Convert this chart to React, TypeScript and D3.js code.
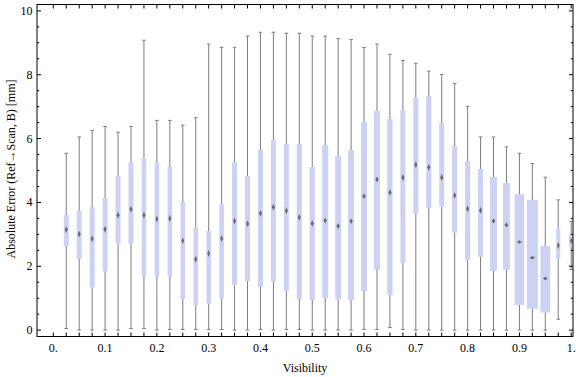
import React from "react";
import * as d3 from "d3";

const visibility = [0.025,0.05,0.075,0.1,0.125,0.15,0.175,0.2,0.225,0.25,0.275,0.3,0.325,0.35,0.375,0.4,0.425,0.45,0.475,0.5,0.525,0.55,0.575,0.6,0.625,0.65,0.675,0.7,0.725,0.75,0.775,0.8,0.825,0.85,0.875,0.9,0.925,0.95,0.975,1.0];
const whiskerLow = [0.05,0,0,0,0,0.05,0.05,0,0.02,0.02,0.02,0.02,0.02,0,0,0.02,0,0.02,0.02,0,0,0,0,0.02,0.02,0.08,0.02,0,0,0,0,0,0,0,0,0,0,0,0.34,1.9];
const q1 = [2.64,2.22,1.33,1.83,2.71,2.71,1.70,1.68,1.67,0.98,0.76,0.83,0.98,1.41,1.54,1.36,1.52,1.22,0.97,0.94,1.01,0.97,0.94,1.22,1.89,1.10,2.10,3.65,3.83,3.87,3.05,2.20,2.30,1.85,1.89,0.79,0.67,0.55,2.24,2.61];
const median = [3.15,3.01,2.86,3.16,3.60,3.79,3.60,3.48,3.50,2.80,2.22,2.40,2.87,3.42,3.33,3.66,3.85,3.74,3.53,3.34,3.43,3.26,3.41,4.19,4.72,4.31,4.78,5.18,5.10,4.78,4.22,3.80,3.75,3.42,3.29,2.76,2.27,1.62,2.65,2.80];
const q3 = [3.60,3.73,3.85,4.14,4.83,5.26,5.39,5.26,5.11,4.01,3.22,3.10,3.95,5.26,4.83,5.64,5.95,5.83,5.83,5.11,5.79,5.45,5.64,6.52,6.87,6.61,6.90,7.27,7.33,6.49,5.77,5.29,5.05,4.80,4.61,4.26,4.08,2.63,3.17,3.00];
const whiskerHigh = [5.54,6.05,6.26,6.38,6.20,6.38,9.08,6.57,6.57,6.42,6.65,8.96,8.86,8.86,9.21,9.33,9.33,9.30,9.30,9.21,9.21,9.13,9.10,8.85,8.96,8.64,8.45,8.36,8.11,8.01,7.73,7.01,6.05,6.05,5.74,5.54,5.22,4.79,4.08,3.41];
const relWidth = [1,1,1,1,1,1,0.9,0.9,0.9,0.9,0.9,0.9,0.9,1,1,1,1,1,1,1.05,1.2,1.2,1.2,1.2,1.2,1.05,1,1,1,1,1,1,1,1.38,1.38,1.9,2.2,1.95,0.8,0.8];

const xTickLabels = ["0.","0.1","0.2","0.3","0.4","0.5","0.6","0.7","0.8","0.9","1."];
const xTickValues = [0,0.1,0.2,0.3,0.4,0.5,0.6,0.7,0.8,0.9,1.0];
const yTickValues = [0,2,4,6,8,10];

const W = 576, H = 377;
const L = 37, R = 573, T = 4.5, B = 336.5;

export default function App() {
  const x = d3.scaleLinear().domain([-0.0315, 1.0035]).range([L, R]);
  const y = d3.scaleLinear().domain([-0.2, 10.2]).range([B, T]);
  const baseW = 5;
  const capW = 3.6;
  const gray = "#7d7d7d";
  const boxFill = "#cbd2f4";
  const font = "'Liberation Serif', 'Times New Roman', serif";

  const minorY = d3.range(0, 10.01, 0.5).filter((v) => Math.abs(v % 2) > 1e-6);
  const xMinor = d3.range(0, 41).map((i) => i * 0.025);

  return (
    <svg width={W} height={H} style={{ position: "absolute", left: 0, top: 0, background: "#fff" }}>
      <defs>
        <clipPath id="plotclip">
          <rect x={L} y={T} width={R - L} height={B - T} />
        </clipPath>
        <filter id="soft" x="-1" y="-1" width="3" height="3">
          <feGaussianBlur stdDeviation="0.45" />
        </filter>
      </defs>
      <rect x={0} y={0} width={W} height={H} fill="#fff" />
      <g clipPath="url(#plotclip)">
        {visibility.map((v, i) => {
          const cx = x(v);
          const w = baseW * relWidth[i];
          const rx = 0.22 * w + 0.4;
          const ry = Math.min(3.6, 17 / w);
          const my = y(median[i]);
          return (
            <g key={i}>
              <line x1={cx} x2={cx} y1={y(whiskerLow[i])} y2={y(whiskerHigh[i])} stroke={gray} strokeWidth={1} />
              <line x1={cx - capW / 2} x2={cx + capW / 2} y1={y(whiskerHigh[i])} y2={y(whiskerHigh[i])} stroke={gray} strokeWidth={1} />
              <line x1={cx - capW / 2} x2={cx + capW / 2} y1={y(whiskerLow[i])} y2={y(whiskerLow[i])} stroke={gray} strokeWidth={1} />
              <rect x={cx - w / 2} y={y(q3[i])} width={w} height={y(q1[i]) - y(q3[i])} fill={boxFill} />
              <path
                d={`M${cx},${my - ry} L${cx + rx},${my} L${cx},${my + ry} L${cx - rx},${my} Z`}
                fill="#6a6a6a"
                filter="url(#soft)"
              />
            </g>
          );
        })}
      </g>
      {/* frame */}
      <rect x={L} y={T} width={R - L} height={B - T} fill="none" stroke="#000" strokeWidth={1} />
      {/* y ticks */}
      {yTickValues.map((v) => (
        <g key={"yt" + v}>
          <line x1={L} x2={L + 4} y1={y(v)} y2={y(v)} stroke="#000" />
          <line x1={R} x2={R - 4} y1={y(v)} y2={y(v)} stroke="#000" />
          <text x={L - 4.5} y={y(v) + 4} textAnchor="end" fontFamily={font} fontSize={12} fill="#000">{v}</text>
        </g>
      ))}
      {minorY.map((v) => (
        <g key={"ym" + v}>
          <line x1={L} x2={L + 2.2} y1={y(v)} y2={y(v)} stroke="#000" />
          <line x1={R} x2={R - 2.2} y1={y(v)} y2={y(v)} stroke="#000" />
        </g>
      ))}
      {/* x ticks */}
      {xMinor.map((v, i) => (
        <g key={"xm" + i}>
          <line x1={x(v)} x2={x(v)} y1={B} y2={B - 4} stroke="#000" />
          <line x1={x(v)} x2={x(v)} y1={T} y2={T + 4} stroke="#000" />
        </g>
      ))}
      {xTickValues.map((v, i) => (
        <text key={"xl" + i} x={x(v)} y={352} textAnchor="middle" fontFamily={font} fontSize={12} fill="#000">
          {xTickLabels[i]}
        </text>
      ))}
      <text x={(L + R) / 2} y={371.5} textAnchor="middle" fontFamily={font} fontSize={12} fill="#000">Visibility</text>
      <text
        transform={`translate(15, ${(80 + 258) / 2}) rotate(-90)`}
        textAnchor="middle"
        fontFamily={font}
        fontSize={12}
        fill="#000"
      >
        Absolute Error (Ref→Scan, B) [mm]
      </text>
    </svg>
  );
}
